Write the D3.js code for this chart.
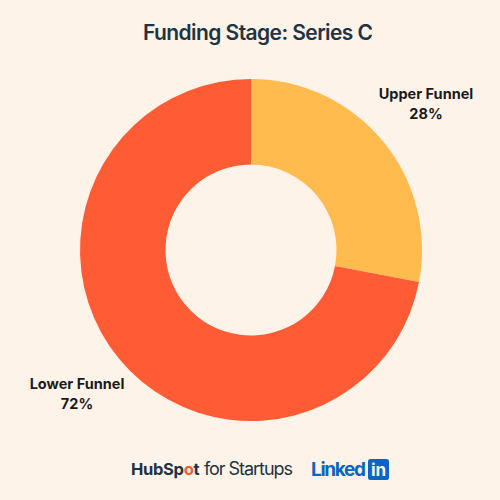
<!DOCTYPE html>
<html>
<head>
<meta charset="utf-8">
<style>
  body { margin: 0; background: #fdf3e9; }
  svg { display: block; }
</style>
</head>
<body>
<svg id="chart" width="500" height="500"></svg>
<script src="https://cdn.jsdelivr.net/npm/d3@7"></script>
<script>
const categories = ["Upper Funnel", "Lower Funnel"];
const values = [28, 72];
const colors = ["#ffbb4d", "#ff5c35"];
const title = "Funding Stage: Series C";

const width = 500, height = 500;
const cx = 251, cy = 250;
const outerR = 171, innerR = 85.5;

const svg = d3.select("#chart");

svg.append("rect")
    .attr("width", width).attr("height", height)
    .attr("fill", "#fdf3e9");

svg.append("text")
    .attr("x", 258).attr("y", 40)
    .attr("text-anchor", "middle")
    .attr("textLength", 230)
    .style("font", "600 21px Inter, sans-serif")
    .attr("fill", "#213343")
    .text(title);

const data = categories.map((c, i) => ({name: c, value: values[i], color: colors[i]}));

const pie = d3.pie().sort(null).value(d => d.value);
const arc = d3.arc().innerRadius(innerR).outerRadius(outerR);

const g = svg.append("g").attr("transform", `translate(${cx},${cy})`);

g.selectAll("path")
  .data(pie(data))
  .join("path")
    .attr("d", arc)
    .attr("fill", d => d.data.color);

// label positions (picked to match the original layout)
const labelPos = [[426, 99], [77, 389]];

const labels = svg.append("g")
    .style("font", "700 14.5px Inter, sans-serif")
    .attr("fill", "#1a1a1a")
  .selectAll("text")
  .data(data)
  .join("text")
    .attr("text-anchor", "middle")
    .attr("x", (d, i) => labelPos[i][0])
    .attr("y", (d, i) => labelPos[i][1]);

labels.append("tspan").text(d => d.name);
labels.append("tspan")
    .attr("x", (d, i) => labelPos[i][0])
    .attr("dy", 20)
    .text(d => `${d.value}%`);

// footer logos
const foot = svg.append("g");
const hs = foot.append("text")
    .attr("x", 131).attr("y", 475)
    .style("font", "700 16.5px Inter, sans-serif")
    .attr("letter-spacing", "-0.3")
    .attr("fill", "#213343");
hs.append("tspan").text("HubSp");
hs.append("tspan").attr("fill", "#ff5c35").text("o");
hs.append("tspan").text("t");
foot.append("text")
    .attr("x", 204).attr("y", 475)
    .attr("textLength", 89)
    .style("font", "400 18px Inter, sans-serif")
    .attr("fill", "#213343")
    .text("for Startups");

const li = foot.append("g");
li.append("text")
    .attr("x", 311).attr("y", 476)
    .attr("textLength", 55)
    .style("font", "700 19px Inter, sans-serif")
    .attr("fill", "#0a66c2")
    .text("Linked");
li.append("rect")
    .attr("x", 368).attr("y", 459).attr("width", 21).attr("height", 21)
    .attr("rx", 2.5)
    .attr("fill", "#0a66c2");
li.append("text")
    .attr("x", 378.5).attr("y", 476)
    .attr("text-anchor", "middle")
    .style("font", "700 17px Inter, sans-serif")
    .attr("fill", "#fdf3e9")
    .text("in");
</script>
</body>
</html>
